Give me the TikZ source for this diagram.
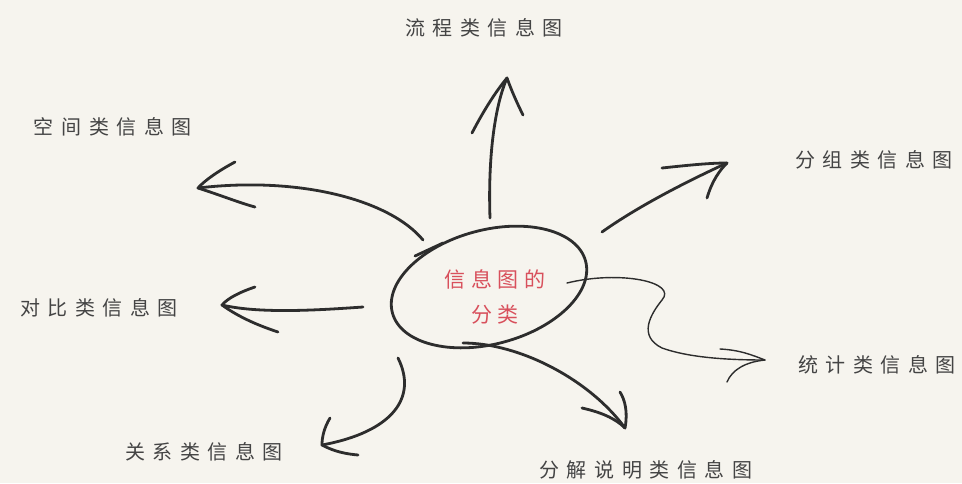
\documentclass[tikz,border=0pt]{standalone}
\usepackage{fontspec}
\usetikzlibrary{shapes.geometric}
\newfontfamily\cjk[LetterSpace=38]{Noto Sans CJK SC}
\newfontfamily\cjkred[LetterSpace=28]{Noto Sans CJK SC}
\definecolor{paper}{RGB}{246,244,238}
\definecolor{ink}{RGB}{45,45,45}
\definecolor{label}{RGB}{68,68,68}
\definecolor{redink}{RGB}{216,80,92}
\tikzset{
  lbl/.style={font=\cjk\fontsize{20}{24}\selectfont, text=label, inner sep=0pt},
  core/.style={font=\cjkred\fontsize{21}{35}\selectfont, text=redink, inner sep=0pt, align=center},
  stroke/.style={draw=ink, line width=2.8pt, line cap=round, line join=round},
  thin/.style={draw=ink, line width=1.4pt, line cap=round, line join=round}
}
\begin{document}
\begin{tikzpicture}[x=1pt,y=-1pt]
\fill[paper] (0,0) rectangle (962,483);
\useasboundingbox (0,0) rectangle (962,483);

% labels
\node[lbl] (liucheng) at (484,28) {流程类信息图};
\node[lbl] (kongjian) at (113,127) {空间类信息图};
\node[lbl] (fenzu) at (874,160) {分组类信息图};
\node[lbl] (duibi) at (99,308) {对比类信息图};
\node[lbl] (tongji) at (877,365) {统计类信息图};
\node[lbl] (guanxi) at (204,452) {关系类信息图};
\node[lbl] (fenjie) at (646,470) {分解说明类信息图};

% centre
\node[ellipse, stroke, minimum width=200pt, minimum height=114pt, rotate=15, inner sep=0pt] (c) at (489,287) {};
\node[core] (ct) at (495,297) {信息图的\\分类};
\draw[stroke] (415,256) -- (443,243);

% coordinates
\coordinate (s1) at (490,218); \coordinate (t1) at (507,78);
\coordinate (s2) at (423,240); \coordinate (t2) at (198,188);
\coordinate (s3) at (363,307); \coordinate (t3) at (222,305);
\coordinate (s4) at (398,358); \coordinate (t4) at (322,445);
\coordinate (s5) at (463,343); \coordinate (t5) at (625,428);
\coordinate (s6) at (602,232); \coordinate (t6) at (727,163);
\coordinate (s7) at (567,283); \coordinate (t7) at (765,360);

% up
\draw[stroke] (s1) .. controls (488,160) and (494,108) .. (t1);
\draw[stroke] (472,133) .. controls (485,108) and (497,90) .. (t1) .. controls (512,92) and (518,105) .. (523,115);
% kongjian
\draw[stroke] (s2) .. controls (390,200) and (300,176) .. (t2);
\draw[stroke] (235,162) .. controls (220,170) and (205,180) .. (t2) .. controls (220,195) and (240,203) .. (255,207);
% duibi
\draw[stroke] (s3) .. controls (320,310) and (260,314) .. (t3);
\draw[stroke] (255,287) .. controls (240,292) and (228,298) .. (t3) .. controls (240,318) and (260,326) .. (278,332);
% guanxi
\draw[stroke] (s4) .. controls (418,398) and (392,432) .. (t4);
\draw[stroke] (330,418) .. controls (324,428) and (322,437) .. (t4) .. controls (335,452) and (347,454) .. (358,455);
% fenjie
\draw[stroke] (s5) .. controls (520,343) and (590,380) .. (t5);
\draw[stroke] (582,408) .. controls (600,412) and (615,418) .. (t5) .. controls (628,412) and (625,400) .. (620,392);
% fenzu
\draw[stroke] (s6) .. controls (640,205) and (690,180) .. (t6);
\draw[stroke] (662,168) .. controls (690,165) and (710,163) .. (t6) .. controls (715,175) and (710,188) .. (707,198);
% tongji
\draw[thin] (s7) .. controls (620,270) and (678,282) .. (662,300) .. controls (650,315) and (638,336) .. (662,348) .. controls (690,358) and (730,360) .. (t7);
\draw[thin] (720,349) .. controls (740,350) and (752,355) .. (t7) .. controls (745,362) and (732,370) .. (727,382);
\end{tikzpicture}
\end{document}
